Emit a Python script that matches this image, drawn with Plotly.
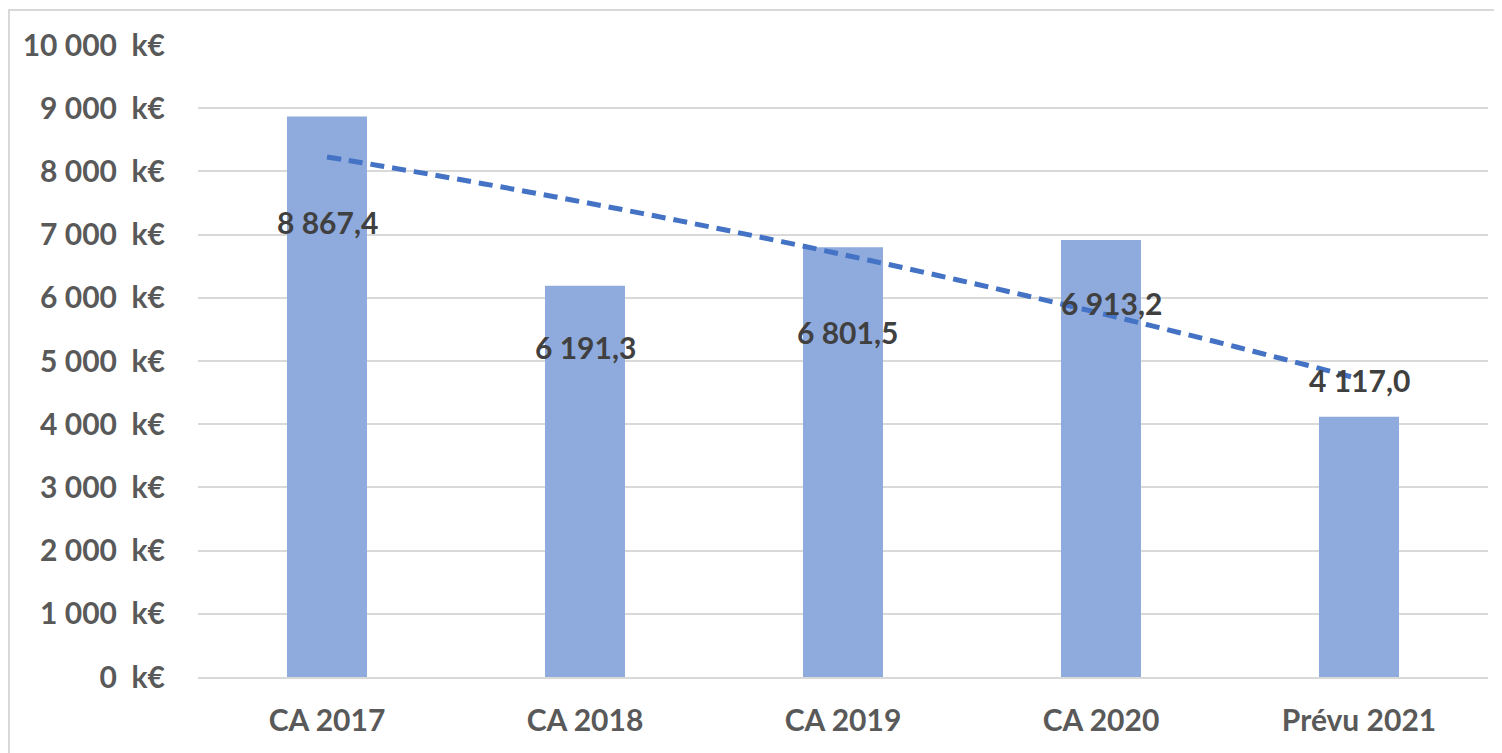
import numpy as np
import plotly.graph_objects as go

categories = ["CA 2017", "CA 2018", "CA 2019", "CA 2020", "Prévu 2021"]
values = [8867.4, 6191.3, 6801.5, 6913.2, 4117.0]
tick_values = list(range(0, 10001, 1000))
tick_labels = [f"{v:,}".replace(",", "\u00a0") + "\u00a0\u00a0k€" for v in tick_values]

# label pixel offsets (style only)
label_yshift = [-105, -61, -85, -63, 37]
label_xshift = [0, 0, 4, 10, 0]

FONT = "Lato"

def fr(v):
    return f"{v:,.1f}".replace(",", "\u00a0").replace(".", ",")

xpos = np.arange(len(categories))
# polynomial (order 2) trendline fitted to the series, as in the source chart
coef = np.polyfit(xpos, values, 2)
tx = np.linspace(xpos[0], xpos[-1], 60)
ty = np.polyval(coef, tx)

fig = go.Figure()
fig.add_trace(go.Bar(
    x=xpos, y=values, width=0.31,
    marker=dict(color="#8faadc", line=dict(width=0)),
    hoverinfo="skip", showlegend=False,
))
fig.add_trace(go.Scatter(
    x=tx, y=ty, mode="lines",
    line=dict(color="#4472c4", width=5, dash="14px,8px", shape="spline"),
    hoverinfo="skip", showlegend=False,
))

for xp, v, ys, xs in zip(xpos, values, label_yshift, label_xshift):
    fig.add_annotation(
        x=xp, y=v, text=fr(v), showarrow=False, yanchor="middle",
        yshift=ys, xshift=xs,
        font=dict(family=FONT, size=30, color="#404040", weight="bold"),
    )

# page body has an 8px offset, so the figure coordinates are shifted by 8px
OFF = 8
W, H = 1502, 753
L, R, T, B = 198 - OFF, 14 + OFF, 45 - OFF, 76 + OFF
pw, ph = W - L - R, H - T - B
def px(x):
    return (x - L) / pw
def py(y):
    return (H - B - y) / ph

fig.add_shape(type="rect", xref="paper", yref="paper",
              x0=px(1), x1=px(1520), y0=py(2), y1=py(780),
              line=dict(color="#d9d9d9", width=2), fillcolor="rgba(0,0,0,0)", layer="below")

fig.update_layout(
    width=W, height=H,
    margin=dict(l=L, r=R, t=T, b=B),
    paper_bgcolor="white", plot_bgcolor="white",
    xaxis=dict(
        range=[-0.5, len(categories) - 0.5],
        tickvals=list(xpos), ticktext=categories,
        showgrid=False, showline=True, linecolor="#d9d9d9", linewidth=2,
        zeroline=False, ticks="",
        tickfont=dict(family=FONT, size=30, color="#595959", weight="bold"),
        ticklabelstandoff=16,
    ),
    yaxis=dict(
        range=[0, 10000], tickvals=tick_values, ticktext=tick_labels,
        showgrid=True, gridcolor="#d9d9d9", gridwidth=2,
        zeroline=False, showline=False, ticks="",
        tickfont=dict(family=FONT, size=30, color="#595959", weight="bold"),
        ticklabelstandoff=32,
    ),
)

fig.write_html("out.html")
